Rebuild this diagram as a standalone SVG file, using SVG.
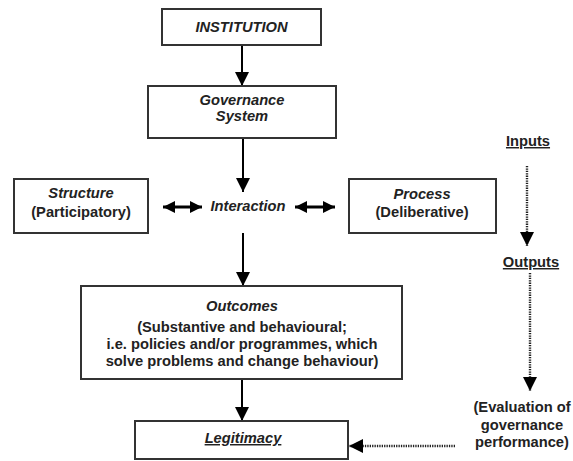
<svg xmlns="http://www.w3.org/2000/svg" width="573" height="461" viewBox="0 0 573 461">
<defs>
<style>
text{font-family:"Liberation Sans",Arial,sans-serif;font-size:14.7px;font-weight:bold;fill:#222;text-anchor:middle}
.it{font-style:italic}
.ul{text-decoration:underline}
.box{fill:#fff;stroke:#333;stroke-width:2}
.conn{stroke:#000;stroke-width:2;fill:none}
.dbl{stroke:#000;stroke-width:3;fill:none}
.dot{stroke:#222;stroke-width:2.4;stroke-dasharray:1.3 1.1;fill:none}
</style>
<marker id="ah" markerUnits="userSpaceOnUse" markerWidth="15" markerHeight="15" viewBox="0 0 15 15" refX="14" refY="7.5" orient="auto">
<path d="M0,0.5 L14,7.5 L0,14.5 z" fill="#000"/>
</marker>
<marker id="ahs" markerUnits="userSpaceOnUse" markerWidth="13" markerHeight="13" viewBox="0 0 13 13" refX="12" refY="6.5" orient="auto-start-reverse">
<path d="M0,0.5 L12,6.5 L0,12.5 z" fill="#000"/>
</marker>
</defs>
<rect width="573" height="461" fill="#fff"/>
<g id="connectors">
<line class="conn" x1="242" y1="45" x2="242" y2="86" marker-end="url(#ah)"/>
<line class="conn" x1="243" y1="138" x2="243" y2="192" marker-end="url(#ah)"/>
<line class="conn" x1="243" y1="233" x2="243" y2="286" marker-end="url(#ah)"/>
<line class="conn" x1="242" y1="379" x2="242" y2="421" marker-end="url(#ah)"/>
<line class="dbl" x1="163" y1="207" x2="202" y2="207" marker-start="url(#ahs)" marker-end="url(#ahs)"/>
<line class="dbl" x1="295" y1="207" x2="335" y2="207" marker-start="url(#ahs)" marker-end="url(#ahs)"/>
<line class="dot" x1="527" y1="166" x2="527" y2="246" marker-end="url(#ah)"/>
<line class="dot" x1="530" y1="273" x2="530" y2="391" marker-end="url(#ah)"/>
<line class="dot" x1="455" y1="446" x2="349" y2="446" marker-end="url(#ah)"/>
</g>
<g id="institution">
<rect class="box" x="162" y="9" width="159" height="36"/>
<text class="it" x="241.5" y="32">INSTITUTION</text>
</g>
<g id="governance">
<rect class="box" x="148" y="86" width="188" height="52"/>
<text class="it" x="242" y="105">Governance</text>
<text class="it" x="242" y="121">System</text>
</g>
<g id="structure">
<rect class="box" x="14" y="179" width="134" height="54"/>
<text class="it" x="81" y="198">Structure</text>
<text x="81" y="217">(Participatory)</text>
</g>
<g id="interaction">
<text class="it" x="248" y="211">Interaction</text>
</g>
<g id="process">
<rect class="box" x="349" y="179" width="147" height="54"/>
<text class="it" x="422" y="199">Process</text>
<text x="422" y="217">(Deliberative)</text>
</g>
<g id="inputs">
<text class="ul" x="528" y="146">Inputs</text>
</g>
<g id="outputs">
<text class="ul" x="531" y="267">Outputs</text>
</g>
<g id="outcomes">
<rect class="box" x="81" y="286" width="321" height="93"/>
<text class="it" x="242" y="311">Outcomes</text>
<text x="242" y="332">(Substantive and behavioural;</text>
<text x="242" y="349">i.e. policies and/or programmes, which</text>
<text x="242" y="366">solve problems and change behaviour)</text>
</g>
<g id="legitimacy">
<rect class="box" x="135" y="421" width="213" height="38"/>
<text class="it ul" x="243" y="443">Legitimacy</text>
</g>
<g id="evaluation">
<text x="522" y="412">(Evaluation of</text>
<text x="522" y="430">governance</text>
<text x="522" y="447">performance)</text>
</g>
</svg>
